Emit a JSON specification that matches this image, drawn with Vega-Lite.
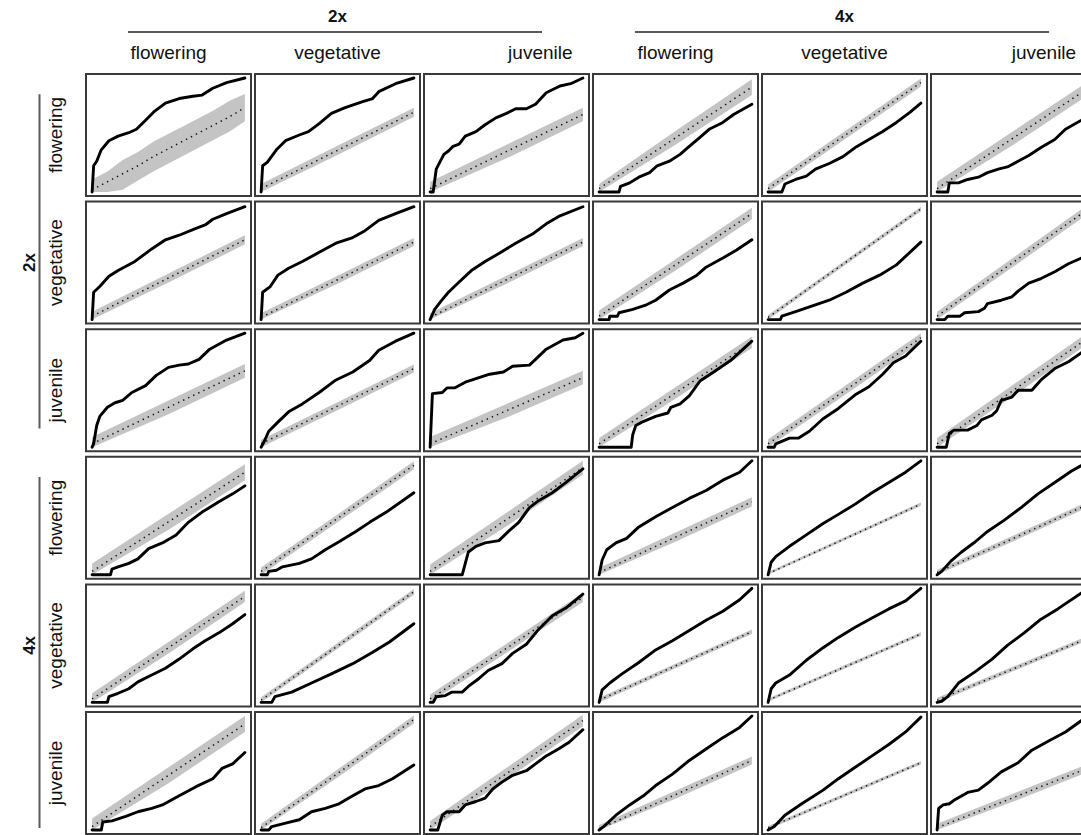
{
"$schema": "https://vega.github.io/schema/vega-lite/v6.json",
"padding": 0,
"background": "white",
"bounds": "flush",
"spacing": 0,
"config": {"view": {"stroke": "#3a3a3a", "strokeWidth": 2}, "font": "Liberation Sans", "concat": {"spacing": 0}},
"datasets": {"panels": [
{"r":"2F","c":"2F","s":"o","x":0,"y":0},{"r":"2F","c":"2F","s":"o","x":0.01,"y":0.23},{"r":"2F","c":"2F","s":"o","x":0.03,"y":0.27},{"r":"2F","c":"2F","s":"o","x":0.06,"y":0.37},{"r":"2F","c":"2F","s":"o","x":0.11,"y":0.45},{"r":"2F","c":"2F","s":"o","x":0.17,"y":0.49},{"r":"2F","c":"2F","s":"o","x":0.24,"y":0.52},{"r":"2F","c":"2F","s":"o","x":0.29,"y":0.55},{"r":"2F","c":"2F","s":"o","x":0.35,"y":0.63},{"r":"2F","c":"2F","s":"o","x":0.41,"y":0.71},{"r":"2F","c":"2F","s":"o","x":0.48,"y":0.78},{"r":"2F","c":"2F","s":"o","x":0.57,"y":0.82},{"r":"2F","c":"2F","s":"o","x":0.66,"y":0.84},{"r":"2F","c":"2F","s":"o","x":0.72,"y":0.85},{"r":"2F","c":"2F","s":"o","x":0.79,"y":0.91},{"r":"2F","c":"2F","s":"o","x":0.88,"y":0.96},{"r":"2F","c":"2F","s":"o","x":1,"y":1},
{"r":"2F","c":"2F","s":"e","x":0,"y":0.02,"lo":0,"hi":0.11},{"r":"2F","c":"2F","s":"e","x":0.1,"y":0.09,"lo":0,"hi":0.18},{"r":"2F","c":"2F","s":"e","x":0.2,"y":0.16,"lo":0.02,"hi":0.28},{"r":"2F","c":"2F","s":"e","x":0.3,"y":0.23,"lo":0.1,"hi":0.35},{"r":"2F","c":"2F","s":"e","x":0.4,"y":0.31,"lo":0.18,"hi":0.44},{"r":"2F","c":"2F","s":"e","x":0.5,"y":0.38,"lo":0.25,"hi":0.51},{"r":"2F","c":"2F","s":"e","x":0.6,"y":0.45,"lo":0.32,"hi":0.58},{"r":"2F","c":"2F","s":"e","x":0.7,"y":0.52,"lo":0.39,"hi":0.65},{"r":"2F","c":"2F","s":"e","x":0.8,"y":0.59,"lo":0.46,"hi":0.72},{"r":"2F","c":"2F","s":"e","x":0.9,"y":0.66,"lo":0.53,"hi":0.8},{"r":"2F","c":"2F","s":"e","x":1,"y":0.74,"lo":0.62,"hi":0.86},

{"r":"2F","c":"2V","s":"o","x":0,"y":0},{"r":"2F","c":"2V","s":"o","x":0.01,"y":0.23},{"r":"2F","c":"2V","s":"o","x":0.04,"y":0.26},{"r":"2F","c":"2V","s":"o","x":0.1,"y":0.37},{"r":"2F","c":"2V","s":"o","x":0.16,"y":0.45},{"r":"2F","c":"2V","s":"o","x":0.25,"y":0.5},{"r":"2F","c":"2V","s":"o","x":0.31,"y":0.53},{"r":"2F","c":"2V","s":"o","x":0.38,"y":0.6},{"r":"2F","c":"2V","s":"o","x":0.46,"y":0.69},{"r":"2F","c":"2V","s":"o","x":0.55,"y":0.74},{"r":"2F","c":"2V","s":"o","x":0.66,"y":0.79},{"r":"2F","c":"2V","s":"o","x":0.73,"y":0.82},{"r":"2F","c":"2V","s":"o","x":0.77,"y":0.88},{"r":"2F","c":"2V","s":"o","x":0.88,"y":0.95},{"r":"2F","c":"2V","s":"o","x":1,"y":1},
{"r":"2F","c":"2V","s":"e","x":0,"y":0.03,"lo":0,"hi":0.07},{"r":"2F","c":"2V","s":"e","x":0.5,"y":0.365,"lo":0.325,"hi":0.405},{"r":"2F","c":"2V","s":"e","x":1,"y":0.7,"lo":0.66,"hi":0.74},

{"r":"2F","c":"2J","s":"o","x":0,"y":0},{"r":"2F","c":"2J","s":"o","x":0.02,"y":0},{"r":"2F","c":"2J","s":"o","x":0.04,"y":0.2},{"r":"2F","c":"2J","s":"o","x":0.09,"y":0.33},{"r":"2F","c":"2J","s":"o","x":0.12,"y":0.36},{"r":"2F","c":"2J","s":"o","x":0.15,"y":0.4},{"r":"2F","c":"2J","s":"o","x":0.19,"y":0.42},{"r":"2F","c":"2J","s":"o","x":0.23,"y":0.49},{"r":"2F","c":"2J","s":"o","x":0.3,"y":0.53},{"r":"2F","c":"2J","s":"o","x":0.36,"y":0.59},{"r":"2F","c":"2J","s":"o","x":0.43,"y":0.65},{"r":"2F","c":"2J","s":"o","x":0.5,"y":0.69},{"r":"2F","c":"2J","s":"o","x":0.56,"y":0.73},{"r":"2F","c":"2J","s":"o","x":0.63,"y":0.73},{"r":"2F","c":"2J","s":"o","x":0.69,"y":0.77},{"r":"2F","c":"2J","s":"o","x":0.76,"y":0.87},{"r":"2F","c":"2J","s":"o","x":0.85,"y":0.93},{"r":"2F","c":"2J","s":"o","x":0.92,"y":0.95},{"r":"2F","c":"2J","s":"o","x":1,"y":1},
{"r":"2F","c":"2J","s":"e","x":0,"y":0.03,"lo":0,"hi":0.09},{"r":"2F","c":"2J","s":"e","x":0.5,"y":0.355,"lo":0.295,"hi":0.415},{"r":"2F","c":"2J","s":"e","x":1,"y":0.68,"lo":0.62,"hi":0.74},

{"r":"2F","c":"4F","s":"o","x":0,"y":0},{"r":"2F","c":"4F","s":"o","x":0.13,"y":0},{"r":"2F","c":"4F","s":"o","x":0.14,"y":0.05},{"r":"2F","c":"4F","s":"o","x":0.2,"y":0.08},{"r":"2F","c":"4F","s":"o","x":0.26,"y":0.13},{"r":"2F","c":"4F","s":"o","x":0.33,"y":0.17},{"r":"2F","c":"4F","s":"o","x":0.38,"y":0.23},{"r":"2F","c":"4F","s":"o","x":0.46,"y":0.27},{"r":"2F","c":"4F","s":"o","x":0.53,"y":0.33},{"r":"2F","c":"4F","s":"o","x":0.59,"y":0.4},{"r":"2F","c":"4F","s":"o","x":0.66,"y":0.48},{"r":"2F","c":"4F","s":"o","x":0.72,"y":0.55},{"r":"2F","c":"4F","s":"o","x":0.81,"y":0.61},{"r":"2F","c":"4F","s":"o","x":0.88,"y":0.68},{"r":"2F","c":"4F","s":"o","x":1,"y":0.77},
{"r":"2F","c":"4F","s":"e","x":0,"y":0.03,"lo":0,"hi":0.07},{"r":"2F","c":"4F","s":"e","x":0.5,"y":0.475,"lo":0.415,"hi":0.535},{"r":"2F","c":"4F","s":"e","x":1,"y":0.92,"lo":0.85,"hi":0.99},

{"r":"2F","c":"4V","s":"o","x":0,"y":0},{"r":"2F","c":"4V","s":"o","x":0.09,"y":0},{"r":"2F","c":"4V","s":"o","x":0.11,"y":0.07},{"r":"2F","c":"4V","s":"o","x":0.18,"y":0.11},{"r":"2F","c":"4V","s":"o","x":0.25,"y":0.14},{"r":"2F","c":"4V","s":"o","x":0.31,"y":0.2},{"r":"2F","c":"4V","s":"o","x":0.4,"y":0.25},{"r":"2F","c":"4V","s":"o","x":0.49,"y":0.31},{"r":"2F","c":"4V","s":"o","x":0.57,"y":0.39},{"r":"2F","c":"4V","s":"o","x":0.66,"y":0.46},{"r":"2F","c":"4V","s":"o","x":0.75,"y":0.53},{"r":"2F","c":"4V","s":"o","x":0.84,"y":0.61},{"r":"2F","c":"4V","s":"o","x":0.93,"y":0.7},{"r":"2F","c":"4V","s":"o","x":1,"y":0.78},
{"r":"2F","c":"4V","s":"e","x":0,"y":0.03,"lo":0,"hi":0.065},{"r":"2F","c":"4V","s":"e","x":0.5,"y":0.495,"lo":0.46,"hi":0.53},{"r":"2F","c":"4V","s":"e","x":1,"y":0.96,"lo":0.925,"hi":0.995},

{"r":"2F","c":"4J","s":"o","x":0,"y":0},{"r":"2F","c":"4J","s":"o","x":0.07,"y":0},{"r":"2F","c":"4J","s":"o","x":0.08,"y":0.08},{"r":"2F","c":"4J","s":"o","x":0.14,"y":0.08},{"r":"2F","c":"4J","s":"o","x":0.2,"y":0.11},{"r":"2F","c":"4J","s":"o","x":0.27,"y":0.13},{"r":"2F","c":"4J","s":"o","x":0.33,"y":0.17},{"r":"2F","c":"4J","s":"o","x":0.4,"y":0.2},{"r":"2F","c":"4J","s":"o","x":0.46,"y":0.22},{"r":"2F","c":"4J","s":"o","x":0.53,"y":0.27},{"r":"2F","c":"4J","s":"o","x":0.6,"y":0.32},{"r":"2F","c":"4J","s":"o","x":0.68,"y":0.39},{"r":"2F","c":"4J","s":"o","x":0.77,"y":0.46},{"r":"2F","c":"4J","s":"o","x":0.84,"y":0.55},{"r":"2F","c":"4J","s":"o","x":0.945,"y":0.63},{"r":"2F","c":"4J","s":"o","x":1,"y":0.69},
{"r":"2F","c":"4J","s":"e","x":0,"y":0.03,"lo":0,"hi":0.09},{"r":"2F","c":"4J","s":"e","x":0.5,"y":0.475,"lo":0.415,"hi":0.535},{"r":"2F","c":"4J","s":"e","x":1,"y":0.92,"lo":0.86,"hi":0.98},

{"r":"2V","c":"2F","s":"o","x":0,"y":0},{"r":"2V","c":"2F","s":"o","x":0.01,"y":0.24},{"r":"2V","c":"2F","s":"o","x":0.05,"y":0.29},{"r":"2V","c":"2F","s":"o","x":0.11,"y":0.38},{"r":"2V","c":"2F","s":"o","x":0.17,"y":0.43},{"r":"2V","c":"2F","s":"o","x":0.28,"y":0.51},{"r":"2V","c":"2F","s":"o","x":0.39,"y":0.62},{"r":"2V","c":"2F","s":"o","x":0.48,"y":0.7},{"r":"2V","c":"2F","s":"o","x":0.57,"y":0.74},{"r":"2V","c":"2F","s":"o","x":0.68,"y":0.8},{"r":"2V","c":"2F","s":"o","x":0.74,"y":0.83},{"r":"2V","c":"2F","s":"o","x":0.79,"y":0.88},{"r":"2V","c":"2F","s":"o","x":0.88,"y":0.93},{"r":"2V","c":"2F","s":"o","x":1,"y":0.99},
{"r":"2V","c":"2F","s":"e","x":0,"y":0.03,"lo":0,"hi":0.07},{"r":"2V","c":"2F","s":"e","x":0.5,"y":0.365,"lo":0.325,"hi":0.405},{"r":"2V","c":"2F","s":"e","x":1,"y":0.7,"lo":0.66,"hi":0.74},

{"r":"2V","c":"2V","s":"o","x":0,"y":0},{"r":"2V","c":"2V","s":"o","x":0.01,"y":0.24},{"r":"2V","c":"2V","s":"o","x":0.06,"y":0.29},{"r":"2V","c":"2V","s":"o","x":0.11,"y":0.39},{"r":"2V","c":"2V","s":"o","x":0.18,"y":0.45},{"r":"2V","c":"2V","s":"o","x":0.27,"y":0.51},{"r":"2V","c":"2V","s":"o","x":0.38,"y":0.59},{"r":"2V","c":"2V","s":"o","x":0.49,"y":0.67},{"r":"2V","c":"2V","s":"o","x":0.6,"y":0.72},{"r":"2V","c":"2V","s":"o","x":0.68,"y":0.78},{"r":"2V","c":"2V","s":"o","x":0.77,"y":0.87},{"r":"2V","c":"2V","s":"o","x":0.88,"y":0.93},{"r":"2V","c":"2V","s":"o","x":1,"y":0.99},
{"r":"2V","c":"2V","s":"e","x":0,"y":0.02,"lo":0,"hi":0.055},{"r":"2V","c":"2V","s":"e","x":0.5,"y":0.35,"lo":0.315,"hi":0.385},{"r":"2V","c":"2V","s":"e","x":1,"y":0.68,"lo":0.645,"hi":0.715},

{"r":"2V","c":"2J","s":"o","x":0,"y":0},{"r":"2V","c":"2J","s":"o","x":0.03,"y":0.09},{"r":"2V","c":"2J","s":"o","x":0.07,"y":0.16},{"r":"2V","c":"2J","s":"o","x":0.12,"y":0.24},{"r":"2V","c":"2J","s":"o","x":0.19,"y":0.33},{"r":"2V","c":"2J","s":"o","x":0.27,"y":0.43},{"r":"2V","c":"2J","s":"o","x":0.36,"y":0.51},{"r":"2V","c":"2J","s":"o","x":0.45,"y":0.58},{"r":"2V","c":"2J","s":"o","x":0.56,"y":0.67},{"r":"2V","c":"2J","s":"o","x":0.67,"y":0.75},{"r":"2V","c":"2J","s":"o","x":0.76,"y":0.84},{"r":"2V","c":"2J","s":"o","x":0.85,"y":0.91},{"r":"2V","c":"2J","s":"o","x":1,"y":0.99},
{"r":"2V","c":"2J","s":"e","x":0,"y":0.02,"lo":0,"hi":0.055},{"r":"2V","c":"2J","s":"e","x":0.5,"y":0.35,"lo":0.315,"hi":0.385},{"r":"2V","c":"2J","s":"e","x":1,"y":0.68,"lo":0.645,"hi":0.715},

{"r":"2V","c":"4F","s":"o","x":0,"y":0},{"r":"2V","c":"4F","s":"o","x":0.065,"y":0},{"r":"2V","c":"4F","s":"o","x":0.07,"y":0.03},{"r":"2V","c":"4F","s":"o","x":0.12,"y":0.03},{"r":"2V","c":"4F","s":"o","x":0.13,"y":0.06},{"r":"2V","c":"4F","s":"o","x":0.22,"y":0.09},{"r":"2V","c":"4F","s":"o","x":0.31,"y":0.13},{"r":"2V","c":"4F","s":"o","x":0.37,"y":0.17},{"r":"2V","c":"4F","s":"o","x":0.46,"y":0.26},{"r":"2V","c":"4F","s":"o","x":0.55,"y":0.32},{"r":"2V","c":"4F","s":"o","x":0.64,"y":0.39},{"r":"2V","c":"4F","s":"o","x":0.7,"y":0.46},{"r":"2V","c":"4F","s":"o","x":0.81,"y":0.54},{"r":"2V","c":"4F","s":"o","x":0.9,"y":0.61},{"r":"2V","c":"4F","s":"o","x":1,"y":0.7},
{"r":"2V","c":"4F","s":"e","x":0,"y":0.03,"lo":0,"hi":0.08},{"r":"2V","c":"4F","s":"e","x":0.5,"y":0.48,"lo":0.43,"hi":0.53},{"r":"2V","c":"4F","s":"e","x":1,"y":0.93,"lo":0.88,"hi":0.98},

{"r":"2V","c":"4V","s":"o","x":0,"y":0},{"r":"2V","c":"4V","s":"o","x":0.08,"y":0},{"r":"2V","c":"4V","s":"o","x":0.09,"y":0.03},{"r":"2V","c":"4V","s":"o","x":0.18,"y":0.07},{"r":"2V","c":"4V","s":"o","x":0.29,"y":0.12},{"r":"2V","c":"4V","s":"o","x":0.4,"y":0.17},{"r":"2V","c":"4V","s":"o","x":0.51,"y":0.24},{"r":"2V","c":"4V","s":"o","x":0.62,"y":0.32},{"r":"2V","c":"4V","s":"o","x":0.73,"y":0.39},{"r":"2V","c":"4V","s":"o","x":0.84,"y":0.48},{"r":"2V","c":"4V","s":"o","x":1,"y":0.68},
{"r":"2V","c":"4V","s":"e","x":0,"y":0.02,"lo":0,"hi":0.04},{"r":"2V","c":"4V","s":"e","x":0.5,"y":0.495,"lo":0.475,"hi":0.515},{"r":"2V","c":"4V","s":"e","x":1,"y":0.97,"lo":0.95,"hi":0.99},

{"r":"2V","c":"4J","s":"o","x":0,"y":0},{"r":"2V","c":"4J","s":"o","x":0.05,"y":0},{"r":"2V","c":"4J","s":"o","x":0.07,"y":0.03},{"r":"2V","c":"4J","s":"o","x":0.15,"y":0.03},{"r":"2V","c":"4J","s":"o","x":0.18,"y":0.06},{"r":"2V","c":"4J","s":"o","x":0.27,"y":0.07},{"r":"2V","c":"4J","s":"o","x":0.31,"y":0.1},{"r":"2V","c":"4J","s":"o","x":0.33,"y":0.14},{"r":"2V","c":"4J","s":"o","x":0.42,"y":0.17},{"r":"2V","c":"4J","s":"o","x":0.49,"y":0.2},{"r":"2V","c":"4J","s":"o","x":0.53,"y":0.25},{"r":"2V","c":"4J","s":"o","x":0.6,"y":0.32},{"r":"2V","c":"4J","s":"o","x":0.68,"y":0.36},{"r":"2V","c":"4J","s":"o","x":0.77,"y":0.42},{"r":"2V","c":"4J","s":"o","x":0.86,"y":0.49},{"r":"2V","c":"4J","s":"o","x":0.945,"y":0.54},{"r":"2V","c":"4J","s":"o","x":1,"y":0.59},
{"r":"2V","c":"4J","s":"e","x":0,"y":0.03,"lo":0,"hi":0.07},{"r":"2V","c":"4J","s":"e","x":0.5,"y":0.505,"lo":0.465,"hi":0.545},{"r":"2V","c":"4J","s":"e","x":1,"y":0.98,"lo":0.94,"hi":1.02},

{"r":"2J","c":"2F","s":"o","x":0,"y":0},{"r":"2J","c":"2F","s":"o","x":0.01,"y":0.03},{"r":"2J","c":"2F","s":"o","x":0.03,"y":0.19},{"r":"2J","c":"2F","s":"o","x":0.05,"y":0.27},{"r":"2J","c":"2F","s":"o","x":0.1,"y":0.35},{"r":"2J","c":"2F","s":"o","x":0.15,"y":0.39},{"r":"2J","c":"2F","s":"o","x":0.2,"y":0.41},{"r":"2J","c":"2F","s":"o","x":0.26,"y":0.48},{"r":"2J","c":"2F","s":"o","x":0.35,"y":0.54},{"r":"2J","c":"2F","s":"o","x":0.42,"y":0.63},{"r":"2J","c":"2F","s":"o","x":0.5,"y":0.7},{"r":"2J","c":"2F","s":"o","x":0.57,"y":0.72},{"r":"2J","c":"2F","s":"o","x":0.63,"y":0.73},{"r":"2J","c":"2F","s":"o","x":0.7,"y":0.77},{"r":"2J","c":"2F","s":"o","x":0.77,"y":0.86},{"r":"2J","c":"2F","s":"o","x":0.88,"y":0.94},{"r":"2J","c":"2F","s":"o","x":1,"y":1},
{"r":"2J","c":"2F","s":"e","x":0,"y":0.03,"lo":0,"hi":0.09},{"r":"2J","c":"2F","s":"e","x":0.5,"y":0.35,"lo":0.29,"hi":0.41},{"r":"2J","c":"2F","s":"e","x":1,"y":0.67,"lo":0.61,"hi":0.73},

{"r":"2J","c":"2V","s":"o","x":0,"y":0},{"r":"2J","c":"2V","s":"o","x":0.02,"y":0.05},{"r":"2J","c":"2V","s":"o","x":0.05,"y":0.14},{"r":"2J","c":"2V","s":"o","x":0.11,"y":0.22},{"r":"2J","c":"2V","s":"o","x":0.18,"y":0.31},{"r":"2J","c":"2V","s":"o","x":0.27,"y":0.38},{"r":"2J","c":"2V","s":"o","x":0.38,"y":0.48},{"r":"2J","c":"2V","s":"o","x":0.49,"y":0.59},{"r":"2J","c":"2V","s":"o","x":0.6,"y":0.66},{"r":"2J","c":"2V","s":"o","x":0.71,"y":0.76},{"r":"2J","c":"2V","s":"o","x":0.77,"y":0.85},{"r":"2J","c":"2V","s":"o","x":0.88,"y":0.93},{"r":"2J","c":"2V","s":"o","x":1,"y":1},
{"r":"2J","c":"2V","s":"e","x":0,"y":0.03,"lo":0,"hi":0.065},{"r":"2J","c":"2V","s":"e","x":0.5,"y":0.36,"lo":0.325,"hi":0.395},{"r":"2J","c":"2V","s":"e","x":1,"y":0.69,"lo":0.655,"hi":0.725},

{"r":"2J","c":"2J","s":"o","x":0,"y":0},{"r":"2J","c":"2J","s":"o","x":0.015,"y":0.47},{"r":"2J","c":"2J","s":"o","x":0.08,"y":0.48},{"r":"2J","c":"2J","s":"o","x":0.11,"y":0.52},{"r":"2J","c":"2J","s":"o","x":0.16,"y":0.52},{"r":"2J","c":"2J","s":"o","x":0.23,"y":0.57},{"r":"2J","c":"2J","s":"o","x":0.32,"y":0.61},{"r":"2J","c":"2J","s":"o","x":0.39,"y":0.64},{"r":"2J","c":"2J","s":"o","x":0.48,"y":0.66},{"r":"2J","c":"2J","s":"o","x":0.54,"y":0.71},{"r":"2J","c":"2J","s":"o","x":0.65,"y":0.72},{"r":"2J","c":"2J","s":"o","x":0.69,"y":0.77},{"r":"2J","c":"2J","s":"o","x":0.76,"y":0.86},{"r":"2J","c":"2J","s":"o","x":0.87,"y":0.94},{"r":"2J","c":"2J","s":"o","x":0.95,"y":0.96},{"r":"2J","c":"2J","s":"o","x":1,"y":1},
{"r":"2J","c":"2J","s":"e","x":0,"y":0.03,"lo":0,"hi":0.09},{"r":"2J","c":"2J","s":"e","x":0.5,"y":0.32,"lo":0.26,"hi":0.38},{"r":"2J","c":"2J","s":"e","x":1,"y":0.61,"lo":0.55,"hi":0.67},

{"r":"2J","c":"4F","s":"o","x":0,"y":0},{"r":"2J","c":"4F","s":"o","x":0.21,"y":0},{"r":"2J","c":"4F","s":"o","x":0.22,"y":0.11},{"r":"2J","c":"4F","s":"o","x":0.24,"y":0.19},{"r":"2J","c":"4F","s":"o","x":0.28,"y":0.22},{"r":"2J","c":"4F","s":"o","x":0.37,"y":0.27},{"r":"2J","c":"4F","s":"o","x":0.45,"y":0.3},{"r":"2J","c":"4F","s":"o","x":0.47,"y":0.35},{"r":"2J","c":"4F","s":"o","x":0.53,"y":0.38},{"r":"2J","c":"4F","s":"o","x":0.59,"y":0.45},{"r":"2J","c":"4F","s":"o","x":0.66,"y":0.58},{"r":"2J","c":"4F","s":"o","x":0.75,"y":0.66},{"r":"2J","c":"4F","s":"o","x":0.86,"y":0.76},{"r":"2J","c":"4F","s":"o","x":1,"y":0.93},
{"r":"2J","c":"4F","s":"e","x":0,"y":0.03,"lo":0,"hi":0.08},{"r":"2J","c":"4F","s":"e","x":0.5,"y":0.475,"lo":0.425,"hi":0.525},{"r":"2J","c":"4F","s":"e","x":1,"y":0.92,"lo":0.87,"hi":0.97},

{"r":"2J","c":"4V","s":"o","x":0,"y":0},{"r":"2J","c":"4V","s":"o","x":0.04,"y":0},{"r":"2J","c":"4V","s":"o","x":0.05,"y":0.03},{"r":"2J","c":"4V","s":"o","x":0.14,"y":0.08},{"r":"2J","c":"4V","s":"o","x":0.2,"y":0.08},{"r":"2J","c":"4V","s":"o","x":0.27,"y":0.14},{"r":"2J","c":"4V","s":"o","x":0.36,"y":0.25},{"r":"2J","c":"4V","s":"o","x":0.46,"y":0.34},{"r":"2J","c":"4V","s":"o","x":0.57,"y":0.46},{"r":"2J","c":"4V","s":"o","x":0.66,"y":0.53},{"r":"2J","c":"4V","s":"o","x":0.75,"y":0.64},{"r":"2J","c":"4V","s":"o","x":0.82,"y":0.74},{"r":"2J","c":"4V","s":"o","x":0.9,"y":0.8},{"r":"2J","c":"4V","s":"o","x":1,"y":0.93},
{"r":"2J","c":"4V","s":"e","x":0,"y":0.03,"lo":0,"hi":0.07},{"r":"2J","c":"4V","s":"e","x":0.5,"y":0.495,"lo":0.455,"hi":0.535},{"r":"2J","c":"4V","s":"e","x":1,"y":0.96,"lo":0.92,"hi":1},

{"r":"2J","c":"4J","s":"o","x":0,"y":0},{"r":"2J","c":"4J","s":"o","x":0.06,"y":0},{"r":"2J","c":"4J","s":"o","x":0.08,"y":0.12},{"r":"2J","c":"4J","s":"o","x":0.11,"y":0.15},{"r":"2J","c":"4J","s":"o","x":0.2,"y":0.15},{"r":"2J","c":"4J","s":"o","x":0.26,"y":0.19},{"r":"2J","c":"4J","s":"o","x":0.29,"y":0.24},{"r":"2J","c":"4J","s":"o","x":0.36,"y":0.28},{"r":"2J","c":"4J","s":"o","x":0.39,"y":0.32},{"r":"2J","c":"4J","s":"o","x":0.42,"y":0.41},{"r":"2J","c":"4J","s":"o","x":0.49,"y":0.44},{"r":"2J","c":"4J","s":"o","x":0.53,"y":0.5},{"r":"2J","c":"4J","s":"o","x":0.62,"y":0.5},{"r":"2J","c":"4J","s":"o","x":0.68,"y":0.59},{"r":"2J","c":"4J","s":"o","x":0.77,"y":0.69},{"r":"2J","c":"4J","s":"o","x":0.86,"y":0.75},{"r":"2J","c":"4J","s":"o","x":0.945,"y":0.83},{"r":"2J","c":"4J","s":"o","x":1,"y":0.9},
{"r":"2J","c":"4J","s":"e","x":0,"y":0.03,"lo":0,"hi":0.08},{"r":"2J","c":"4J","s":"e","x":0.5,"y":0.5,"lo":0.45,"hi":0.55},{"r":"2J","c":"4J","s":"e","x":1,"y":0.97,"lo":0.92,"hi":1.02},

{"r":"4F","c":"2F","s":"o","x":0,"y":0},{"r":"4F","c":"2F","s":"o","x":0.12,"y":0},{"r":"4F","c":"2F","s":"o","x":0.13,"y":0.05},{"r":"4F","c":"2F","s":"o","x":0.17,"y":0.07},{"r":"4F","c":"2F","s":"o","x":0.24,"y":0.1},{"r":"4F","c":"2F","s":"o","x":0.3,"y":0.14},{"r":"4F","c":"2F","s":"o","x":0.37,"y":0.23},{"r":"4F","c":"2F","s":"o","x":0.46,"y":0.28},{"r":"4F","c":"2F","s":"o","x":0.55,"y":0.35},{"r":"4F","c":"2F","s":"o","x":0.63,"y":0.46},{"r":"4F","c":"2F","s":"o","x":0.72,"y":0.55},{"r":"4F","c":"2F","s":"o","x":0.83,"y":0.64},{"r":"4F","c":"2F","s":"o","x":0.92,"y":0.71},{"r":"4F","c":"2F","s":"o","x":1,"y":0.78},
{"r":"4F","c":"2F","s":"e","x":0,"y":0.03,"lo":0,"hi":0.1},{"r":"4F","c":"2F","s":"e","x":0.5,"y":0.465,"lo":0.395,"hi":0.535},{"r":"4F","c":"2F","s":"e","x":1,"y":0.9,"lo":0.83,"hi":0.97},

{"r":"4F","c":"2V","s":"o","x":0,"y":0},{"r":"4F","c":"2V","s":"o","x":0.04,"y":0},{"r":"4F","c":"2V","s":"o","x":0.05,"y":0.03},{"r":"4F","c":"2V","s":"o","x":0.1,"y":0.04},{"r":"4F","c":"2V","s":"o","x":0.14,"y":0.07},{"r":"4F","c":"2V","s":"o","x":0.25,"y":0.1},{"r":"4F","c":"2V","s":"o","x":0.33,"y":0.14},{"r":"4F","c":"2V","s":"o","x":0.42,"y":0.22},{"r":"4F","c":"2V","s":"o","x":0.51,"y":0.29},{"r":"4F","c":"2V","s":"o","x":0.62,"y":0.38},{"r":"4F","c":"2V","s":"o","x":0.71,"y":0.46},{"r":"4F","c":"2V","s":"o","x":0.82,"y":0.55},{"r":"4F","c":"2V","s":"o","x":1,"y":0.72},
{"r":"4F","c":"2V","s":"e","x":0,"y":0.03,"lo":0,"hi":0.065},{"r":"4F","c":"2V","s":"e","x":0.5,"y":0.495,"lo":0.46,"hi":0.53},{"r":"4F","c":"2V","s":"e","x":1,"y":0.96,"lo":0.925,"hi":0.995},

{"r":"4F","c":"2J","s":"o","x":0,"y":0},{"r":"4F","c":"2J","s":"o","x":0.21,"y":0},{"r":"4F","c":"2J","s":"o","x":0.25,"y":0.2},{"r":"4F","c":"2J","s":"o","x":0.3,"y":0.25},{"r":"4F","c":"2J","s":"o","x":0.36,"y":0.28},{"r":"4F","c":"2J","s":"o","x":0.45,"y":0.3},{"r":"4F","c":"2J","s":"o","x":0.52,"y":0.39},{"r":"4F","c":"2J","s":"o","x":0.58,"y":0.46},{"r":"4F","c":"2J","s":"o","x":0.65,"y":0.59},{"r":"4F","c":"2J","s":"o","x":0.71,"y":0.65},{"r":"4F","c":"2J","s":"o","x":0.8,"y":0.72},{"r":"4F","c":"2J","s":"o","x":0.89,"y":0.81},{"r":"4F","c":"2J","s":"o","x":1,"y":0.93},
{"r":"4F","c":"2J","s":"e","x":0,"y":0.03,"lo":0,"hi":0.09},{"r":"4F","c":"2J","s":"e","x":0.5,"y":0.485,"lo":0.425,"hi":0.545},{"r":"4F","c":"2J","s":"e","x":1,"y":0.94,"lo":0.88,"hi":1},

{"r":"4F","c":"4F","s":"o","x":0,"y":0},{"r":"4F","c":"4F","s":"o","x":0.02,"y":0.13},{"r":"4F","c":"4F","s":"o","x":0.05,"y":0.22},{"r":"4F","c":"4F","s":"o","x":0.11,"y":0.28},{"r":"4F","c":"4F","s":"o","x":0.18,"y":0.32},{"r":"4F","c":"4F","s":"o","x":0.26,"y":0.42},{"r":"4F","c":"4F","s":"o","x":0.37,"y":0.51},{"r":"4F","c":"4F","s":"o","x":0.48,"y":0.59},{"r":"4F","c":"4F","s":"o","x":0.59,"y":0.67},{"r":"4F","c":"4F","s":"o","x":0.7,"y":0.74},{"r":"4F","c":"4F","s":"o","x":0.81,"y":0.83},{"r":"4F","c":"4F","s":"o","x":0.92,"y":0.9},{"r":"4F","c":"4F","s":"o","x":1,"y":1},
{"r":"4F","c":"4F","s":"e","x":0,"y":0.02,"lo":0,"hi":0.06},{"r":"4F","c":"4F","s":"e","x":0.5,"y":0.33,"lo":0.29,"hi":0.37},{"r":"4F","c":"4F","s":"e","x":1,"y":0.64,"lo":0.6,"hi":0.68},

{"r":"4F","c":"4V","s":"o","x":0,"y":0},{"r":"4F","c":"4V","s":"o","x":0.02,"y":0.11},{"r":"4F","c":"4V","s":"o","x":0.05,"y":0.16},{"r":"4F","c":"4V","s":"o","x":0.14,"y":0.25},{"r":"4F","c":"4V","s":"o","x":0.25,"y":0.35},{"r":"4F","c":"4V","s":"o","x":0.36,"y":0.45},{"r":"4F","c":"4V","s":"o","x":0.46,"y":0.53},{"r":"4F","c":"4V","s":"o","x":0.57,"y":0.62},{"r":"4F","c":"4V","s":"o","x":0.68,"y":0.72},{"r":"4F","c":"4V","s":"o","x":0.79,"y":0.81},{"r":"4F","c":"4V","s":"o","x":0.9,"y":0.9},{"r":"4F","c":"4V","s":"o","x":1,"y":1},
{"r":"4F","c":"4V","s":"e","x":0,"y":0.01,"lo":0,"hi":0.025},{"r":"4F","c":"4V","s":"e","x":0.5,"y":0.315,"lo":0.3,"hi":0.33},{"r":"4F","c":"4V","s":"e","x":1,"y":0.62,"lo":0.605,"hi":0.635},

{"r":"4F","c":"4J","s":"o","x":0,"y":0},{"r":"4F","c":"4J","s":"o","x":0.03,"y":0.03},{"r":"4F","c":"4J","s":"o","x":0.09,"y":0.12},{"r":"4F","c":"4J","s":"o","x":0.16,"y":0.2},{"r":"4F","c":"4J","s":"o","x":0.25,"y":0.29},{"r":"4F","c":"4J","s":"o","x":0.33,"y":0.38},{"r":"4F","c":"4J","s":"o","x":0.44,"y":0.48},{"r":"4F","c":"4J","s":"o","x":0.55,"y":0.59},{"r":"4F","c":"4J","s":"o","x":0.66,"y":0.71},{"r":"4F","c":"4J","s":"o","x":0.77,"y":0.81},{"r":"4F","c":"4J","s":"o","x":0.88,"y":0.91},{"r":"4F","c":"4J","s":"o","x":1,"y":1},
{"r":"4F","c":"4J","s":"e","x":0,"y":0.02,"lo":0,"hi":0.045},{"r":"4F","c":"4J","s":"e","x":0.5,"y":0.32,"lo":0.295,"hi":0.345},{"r":"4F","c":"4J","s":"e","x":1,"y":0.625,"lo":0.6,"hi":0.65},

{"r":"4V","c":"2F","s":"o","x":0,"y":0},{"r":"4V","c":"2F","s":"o","x":0.1,"y":0},{"r":"4V","c":"2F","s":"o","x":0.11,"y":0.05},{"r":"4V","c":"2F","s":"o","x":0.17,"y":0.08},{"r":"4V","c":"2F","s":"o","x":0.24,"y":0.12},{"r":"4V","c":"2F","s":"o","x":0.3,"y":0.18},{"r":"4V","c":"2F","s":"o","x":0.39,"y":0.24},{"r":"4V","c":"2F","s":"o","x":0.48,"y":0.3},{"r":"4V","c":"2F","s":"o","x":0.57,"y":0.38},{"r":"4V","c":"2F","s":"o","x":0.66,"y":0.47},{"r":"4V","c":"2F","s":"o","x":0.74,"y":0.54},{"r":"4V","c":"2F","s":"o","x":0.83,"y":0.61},{"r":"4V","c":"2F","s":"o","x":0.92,"y":0.69},{"r":"4V","c":"2F","s":"o","x":1,"y":0.77},
{"r":"4V","c":"2F","s":"e","x":0,"y":0.03,"lo":0,"hi":0.08},{"r":"4V","c":"2F","s":"e","x":0.5,"y":0.48,"lo":0.43,"hi":0.53},{"r":"4V","c":"2F","s":"e","x":1,"y":0.93,"lo":0.88,"hi":0.98},

{"r":"4V","c":"2V","s":"o","x":0,"y":0},{"r":"4V","c":"2V","s":"o","x":0.07,"y":0},{"r":"4V","c":"2V","s":"o","x":0.09,"y":0.05},{"r":"4V","c":"2V","s":"o","x":0.2,"y":0.09},{"r":"4V","c":"2V","s":"o","x":0.33,"y":0.17},{"r":"4V","c":"2V","s":"o","x":0.46,"y":0.25},{"r":"4V","c":"2V","s":"o","x":0.6,"y":0.34},{"r":"4V","c":"2V","s":"o","x":0.73,"y":0.44},{"r":"4V","c":"2V","s":"o","x":0.84,"y":0.53},{"r":"4V","c":"2V","s":"o","x":1,"y":0.69},
{"r":"4V","c":"2V","s":"e","x":0,"y":0.02,"lo":0,"hi":0.045},{"r":"4V","c":"2V","s":"e","x":0.5,"y":0.495,"lo":0.47,"hi":0.52},{"r":"4V","c":"2V","s":"e","x":1,"y":0.97,"lo":0.945,"hi":0.995},

{"r":"4V","c":"2J","s":"o","x":0,"y":0},{"r":"4V","c":"2J","s":"o","x":0.02,"y":0},{"r":"4V","c":"2J","s":"o","x":0.04,"y":0.05},{"r":"4V","c":"2J","s":"o","x":0.1,"y":0.06},{"r":"4V","c":"2J","s":"o","x":0.14,"y":0.09},{"r":"4V","c":"2J","s":"o","x":0.21,"y":0.09},{"r":"4V","c":"2J","s":"o","x":0.25,"y":0.14},{"r":"4V","c":"2J","s":"o","x":0.32,"y":0.21},{"r":"4V","c":"2J","s":"o","x":0.38,"y":0.28},{"r":"4V","c":"2J","s":"o","x":0.47,"y":0.34},{"r":"4V","c":"2J","s":"o","x":0.54,"y":0.43},{"r":"4V","c":"2J","s":"o","x":0.63,"y":0.51},{"r":"4V","c":"2J","s":"o","x":0.71,"y":0.64},{"r":"4V","c":"2J","s":"o","x":0.8,"y":0.76},{"r":"4V","c":"2J","s":"o","x":0.89,"y":0.83},{"r":"4V","c":"2J","s":"o","x":1,"y":0.95},
{"r":"4V","c":"2J","s":"e","x":0,"y":0.03,"lo":0,"hi":0.07},{"r":"4V","c":"2J","s":"e","x":0.5,"y":0.475,"lo":0.435,"hi":0.515},{"r":"4V","c":"2J","s":"e","x":1,"y":0.92,"lo":0.88,"hi":0.96},

{"r":"4V","c":"4F","s":"o","x":0,"y":0},{"r":"4V","c":"4F","s":"o","x":0.02,"y":0.11},{"r":"4V","c":"4F","s":"o","x":0.07,"y":0.17},{"r":"4V","c":"4F","s":"o","x":0.15,"y":0.25},{"r":"4V","c":"4F","s":"o","x":0.26,"y":0.35},{"r":"4V","c":"4F","s":"o","x":0.37,"y":0.46},{"r":"4V","c":"4F","s":"o","x":0.48,"y":0.54},{"r":"4V","c":"4F","s":"o","x":0.59,"y":0.63},{"r":"4V","c":"4F","s":"o","x":0.7,"y":0.72},{"r":"4V","c":"4F","s":"o","x":0.81,"y":0.8},{"r":"4V","c":"4F","s":"o","x":0.92,"y":0.9},{"r":"4V","c":"4F","s":"o","x":1,"y":1},
{"r":"4V","c":"4F","s":"e","x":0,"y":0.02,"lo":0,"hi":0.04},{"r":"4V","c":"4F","s":"e","x":0.5,"y":0.32,"lo":0.3,"hi":0.34},{"r":"4V","c":"4F","s":"e","x":1,"y":0.62,"lo":0.6,"hi":0.64},

{"r":"4V","c":"4V","s":"o","x":0,"y":0},{"r":"4V","c":"4V","s":"o","x":0.02,"y":0.12},{"r":"4V","c":"4V","s":"o","x":0.05,"y":0.17},{"r":"4V","c":"4V","s":"o","x":0.14,"y":0.24},{"r":"4V","c":"4V","s":"o","x":0.25,"y":0.37},{"r":"4V","c":"4V","s":"o","x":0.36,"y":0.48},{"r":"4V","c":"4V","s":"o","x":0.46,"y":0.57},{"r":"4V","c":"4V","s":"o","x":0.57,"y":0.66},{"r":"4V","c":"4V","s":"o","x":0.68,"y":0.74},{"r":"4V","c":"4V","s":"o","x":0.79,"y":0.82},{"r":"4V","c":"4V","s":"o","x":0.9,"y":0.89},{"r":"4V","c":"4V","s":"o","x":1,"y":1},
{"r":"4V","c":"4V","s":"e","x":0,"y":0.02,"lo":0.005,"hi":0.035},{"r":"4V","c":"4V","s":"e","x":0.5,"y":0.31,"lo":0.295,"hi":0.325},{"r":"4V","c":"4V","s":"e","x":1,"y":0.6,"lo":0.585,"hi":0.615},

{"r":"4V","c":"4J","s":"o","x":0,"y":0},{"r":"4V","c":"4J","s":"o","x":0.03,"y":0.01},{"r":"4V","c":"4J","s":"o","x":0.07,"y":0.05},{"r":"4V","c":"4J","s":"o","x":0.14,"y":0.17},{"r":"4V","c":"4J","s":"o","x":0.25,"y":0.27},{"r":"4V","c":"4J","s":"o","x":0.36,"y":0.38},{"r":"4V","c":"4J","s":"o","x":0.46,"y":0.5},{"r":"4V","c":"4J","s":"o","x":0.57,"y":0.61},{"r":"4V","c":"4J","s":"o","x":0.68,"y":0.73},{"r":"4V","c":"4J","s":"o","x":0.79,"y":0.82},{"r":"4V","c":"4J","s":"o","x":0.945,"y":0.96},{"r":"4V","c":"4J","s":"o","x":1,"y":1},
{"r":"4V","c":"4J","s":"e","x":0,"y":0.02,"lo":0,"hi":0.04},{"r":"4V","c":"4J","s":"e","x":0.5,"y":0.295,"lo":0.275,"hi":0.315},{"r":"4V","c":"4J","s":"e","x":1,"y":0.57,"lo":0.55,"hi":0.59},

{"r":"4J","c":"2F","s":"o","x":0,"y":0},{"r":"4J","c":"2F","s":"o","x":0.06,"y":0},{"r":"4J","c":"2F","s":"o","x":0.07,"y":0.07},{"r":"4J","c":"2F","s":"o","x":0.13,"y":0.08},{"r":"4J","c":"2F","s":"o","x":0.22,"y":0.12},{"r":"4J","c":"2F","s":"o","x":0.3,"y":0.16},{"r":"4J","c":"2F","s":"o","x":0.39,"y":0.19},{"r":"4J","c":"2F","s":"o","x":0.46,"y":0.22},{"r":"4J","c":"2F","s":"o","x":0.57,"y":0.3},{"r":"4J","c":"2F","s":"o","x":0.68,"y":0.38},{"r":"4J","c":"2F","s":"o","x":0.79,"y":0.45},{"r":"4J","c":"2F","s":"o","x":0.85,"y":0.54},{"r":"4J","c":"2F","s":"o","x":0.92,"y":0.58},{"r":"4J","c":"2F","s":"o","x":1,"y":0.68},
{"r":"4J","c":"2F","s":"e","x":0,"y":0.03,"lo":0,"hi":0.1},{"r":"4J","c":"2F","s":"e","x":0.5,"y":0.48,"lo":0.41,"hi":0.55},{"r":"4J","c":"2F","s":"e","x":1,"y":0.93,"lo":0.86,"hi":1},

{"r":"4J","c":"2V","s":"o","x":0,"y":0},{"r":"4J","c":"2V","s":"o","x":0.05,"y":0},{"r":"4J","c":"2V","s":"o","x":0.07,"y":0.03},{"r":"4J","c":"2V","s":"o","x":0.16,"y":0.06},{"r":"4J","c":"2V","s":"o","x":0.25,"y":0.09},{"r":"4J","c":"2V","s":"o","x":0.33,"y":0.16},{"r":"4J","c":"2V","s":"o","x":0.42,"y":0.19},{"r":"4J","c":"2V","s":"o","x":0.51,"y":0.23},{"r":"4J","c":"2V","s":"o","x":0.6,"y":0.3},{"r":"4J","c":"2V","s":"o","x":0.68,"y":0.36},{"r":"4J","c":"2V","s":"o","x":0.77,"y":0.39},{"r":"4J","c":"2V","s":"o","x":0.86,"y":0.45},{"r":"4J","c":"2V","s":"o","x":1,"y":0.57},
{"r":"4J","c":"2V","s":"e","x":0,"y":0.02,"lo":0,"hi":0.055},{"r":"4J","c":"2V","s":"e","x":0.5,"y":0.495,"lo":0.46,"hi":0.53},{"r":"4J","c":"2V","s":"e","x":1,"y":0.97,"lo":0.935,"hi":1.005},

{"r":"4J","c":"2J","s":"o","x":0,"y":0},{"r":"4J","c":"2J","s":"o","x":0.05,"y":0},{"r":"4J","c":"2J","s":"o","x":0.08,"y":0.13},{"r":"4J","c":"2J","s":"o","x":0.11,"y":0.16},{"r":"4J","c":"2J","s":"o","x":0.19,"y":0.16},{"r":"4J","c":"2J","s":"o","x":0.23,"y":0.22},{"r":"4J","c":"2J","s":"o","x":0.3,"y":0.25},{"r":"4J","c":"2J","s":"o","x":0.36,"y":0.28},{"r":"4J","c":"2J","s":"o","x":0.41,"y":0.36},{"r":"4J","c":"2J","s":"o","x":0.47,"y":0.42},{"r":"4J","c":"2J","s":"o","x":0.54,"y":0.48},{"r":"4J","c":"2J","s":"o","x":0.63,"y":0.52},{"r":"4J","c":"2J","s":"o","x":0.69,"y":0.58},{"r":"4J","c":"2J","s":"o","x":0.76,"y":0.65},{"r":"4J","c":"2J","s":"o","x":0.84,"y":0.71},{"r":"4J","c":"2J","s":"o","x":0.91,"y":0.77},{"r":"4J","c":"2J","s":"o","x":1,"y":0.88},
{"r":"4J","c":"2J","s":"e","x":0,"y":0.03,"lo":0,"hi":0.08},{"r":"4J","c":"2J","s":"e","x":0.5,"y":0.495,"lo":0.445,"hi":0.545},{"r":"4J","c":"2J","s":"e","x":1,"y":0.96,"lo":0.91,"hi":1.01},

{"r":"4J","c":"4F","s":"o","x":0,"y":0},{"r":"4J","c":"4F","s":"o","x":0.03,"y":0.03},{"r":"4J","c":"4F","s":"o","x":0.11,"y":0.13},{"r":"4J","c":"4F","s":"o","x":0.2,"y":0.22},{"r":"4J","c":"4F","s":"o","x":0.29,"y":0.3},{"r":"4J","c":"4F","s":"o","x":0.37,"y":0.39},{"r":"4J","c":"4F","s":"o","x":0.48,"y":0.49},{"r":"4J","c":"4F","s":"o","x":0.59,"y":0.61},{"r":"4J","c":"4F","s":"o","x":0.7,"y":0.71},{"r":"4J","c":"4F","s":"o","x":0.81,"y":0.81},{"r":"4J","c":"4F","s":"o","x":0.92,"y":0.9},{"r":"4J","c":"4F","s":"o","x":1,"y":1},
{"r":"4J","c":"4F","s":"e","x":0,"y":0.01,"lo":0,"hi":0.045},{"r":"4J","c":"4F","s":"e","x":0.5,"y":0.31,"lo":0.275,"hi":0.345},{"r":"4J","c":"4F","s":"e","x":1,"y":0.61,"lo":0.575,"hi":0.645},

{"r":"4J","c":"4V","s":"o","x":0,"y":0},{"r":"4J","c":"4V","s":"o","x":0.04,"y":0.03},{"r":"4J","c":"4V","s":"o","x":0.11,"y":0.13},{"r":"4J","c":"4V","s":"o","x":0.22,"y":0.23},{"r":"4J","c":"4V","s":"o","x":0.36,"y":0.35},{"r":"4J","c":"4V","s":"o","x":0.46,"y":0.45},{"r":"4J","c":"4V","s":"o","x":0.57,"y":0.55},{"r":"4J","c":"4V","s":"o","x":0.68,"y":0.65},{"r":"4J","c":"4V","s":"o","x":0.79,"y":0.75},{"r":"4J","c":"4V","s":"o","x":0.9,"y":0.86},{"r":"4J","c":"4V","s":"o","x":1,"y":0.99},
{"r":"4J","c":"4V","s":"e","x":0,"y":0.02,"lo":0.005,"hi":0.035},{"r":"4J","c":"4V","s":"e","x":0.5,"y":0.305,"lo":0.29,"hi":0.32},{"r":"4J","c":"4V","s":"e","x":1,"y":0.59,"lo":0.575,"hi":0.605},

{"r":"4J","c":"4J","s":"o","x":0,"y":0},{"r":"4J","c":"4J","s":"o","x":0.01,"y":0.19},{"r":"4J","c":"4J","s":"o","x":0.04,"y":0.22},{"r":"4J","c":"4J","s":"o","x":0.08,"y":0.23},{"r":"4J","c":"4J","s":"o","x":0.11,"y":0.26},{"r":"4J","c":"4J","s":"o","x":0.2,"y":0.33},{"r":"4J","c":"4J","s":"o","x":0.27,"y":0.35},{"r":"4J","c":"4J","s":"o","x":0.33,"y":0.41},{"r":"4J","c":"4J","s":"o","x":0.42,"y":0.51},{"r":"4J","c":"4J","s":"o","x":0.53,"y":0.59},{"r":"4J","c":"4J","s":"o","x":0.62,"y":0.7},{"r":"4J","c":"4J","s":"o","x":0.73,"y":0.78},{"r":"4J","c":"4J","s":"o","x":0.84,"y":0.86},{"r":"4J","c":"4J","s":"o","x":0.945,"y":0.96},{"r":"4J","c":"4J","s":"o","x":1,"y":1},
{"r":"4J","c":"4J","s":"e","x":0,"y":0.02,"lo":0,"hi":0.055},{"r":"4J","c":"4J","s":"e","x":0.5,"y":0.285,"lo":0.25,"hi":0.32},{"r":"4J","c":"4J","s":"e","x":1,"y":0.55,"lo":0.515,"hi":0.585}
]},
"vconcat": [
{
 "width": 1096, "height": 74,
 "view": {"stroke": null},
 "data": {"values": [
  {"tier":"group","label":"2x","mid":1.5,"from":0.26,"to":2.71},
  {"tier":"group","label":"4x","mid":4.5,"from":3.26,"to":5.71},
  {"tier":"stage","label":"flowering","mid":0.5},
  {"tier":"stage","label":"vegetative","mid":1.5},
  {"tier":"stage","label":"juvenile","mid":2.7},
  {"tier":"stage","label":"flowering","mid":3.5},
  {"tier":"stage","label":"vegetative","mid":4.5},
  {"tier":"stage","label":"juvenile","mid":5.68}
 ]},
 "encoding": {
  "y": {"field":"tier","type":"nominal","scale":{"type":"point","domain":["group","stage"],"range":[22,59],"padding":0},"axis":null}
 },
 "layer": [
  {"transform":[{"filter":"datum.tier==='group'"}],
   "mark":{"type":"rule","stroke":"#5a5a5a","strokeWidth":2,"yOffset":10},
   "encoding":{"x":{"field":"from","type":"quantitative","scale":{"domain":[-0.497,5.988],"nice":false,"zero":false},"axis":null},"x2":{"field":"to"}}},
  {"transform":[{"filter":"datum.tier==='group'"}],
   "mark":{"type":"text","fontSize":17,"fontWeight":"bold","baseline":"alphabetic","align":"center","color":"#111"},
   "encoding":{"x":{"field":"mid","type":"quantitative","scale":{"domain":[-0.497,5.988],"nice":false,"zero":false},"axis":null},"text":{"field":"label"}}},
  {"transform":[{"filter":"datum.tier==='stage'"}],
   "mark":{"type":"text","fontSize":19,"baseline":"alphabetic","align":"center","color":"#111"},
   "encoding":{"x":{"field":"mid","type":"quantitative","scale":{"domain":[-0.497,5.988],"nice":false,"zero":false},"axis":null},"text":{"field":"label"}}}
 ]
},
{
 "hconcat": [
  {
   "width": 86, "height": 760,
   "view": {"stroke": null},
   "data": {"values": [
    {"tier":"group","label":"2x","mid":1.5,"from":0.18,"to":2.8},
    {"tier":"group","label":"4x","mid":4.5,"from":3.18,"to":5.93},
    {"tier":"stage","label":"flowering","mid":0.5},
    {"tier":"stage","label":"vegetative","mid":1.5},
    {"tier":"stage","label":"juvenile","mid":2.5},
    {"tier":"stage","label":"flowering","mid":3.5},
    {"tier":"stage","label":"vegetative","mid":4.5},
    {"tier":"stage","label":"juvenile","mid":5.5}
   ]},
   "encoding": {
    "x": {"field":"tier","type":"nominal","scale":{"type":"point","domain":["group","stage"],"range":[35,61.5],"padding":0},"axis":null}
   },
   "layer": [
    {"transform":[{"filter":"datum.tier==='group'"}],
     "mark":{"type":"rule","stroke":"#5a5a5a","strokeWidth":2,"xOffset":4.5},
     "encoding":{"y":{"field":"from","type":"quantitative","scale":{"domain":[0.022,5.978],"reverse":true,"nice":false,"zero":false},"axis":null},"y2":{"field":"to"}}},
    {"transform":[{"filter":"datum.tier==='group'"}],
     "mark":{"type":"text","fontSize":17,"fontWeight":"bold","baseline":"alphabetic","align":"center","angle":270,"color":"#111"},
     "encoding":{"y":{"field":"mid","type":"quantitative","scale":{"domain":[0.022,5.978],"reverse":true,"nice":false,"zero":false},"axis":null},"text":{"field":"label"}}},
    {"transform":[{"filter":"datum.tier==='stage'"}],
     "mark":{"type":"text","fontSize":19,"baseline":"alphabetic","align":"center","angle":270,"color":"#111"},
     "encoding":{"y":{"field":"mid","type":"quantitative","scale":{"domain":[0.022,5.978],"reverse":true,"nice":false,"zero":false},"axis":null},"text":{"field":"label"}}}
   ]
  },
  {
   "data": {"name": "panels"},
   "spacing": {"row": 5.6, "column": 4},
   "bounds": "flush",
   "facet": {
    "row": {"field":"r","type":"nominal","sort":["2F","2V","2J","4F","4V","4J"],"header":null},
    "column": {"field":"c","type":"nominal","sort":["2F","2V","2J","4F","4V","4J"],"header":null}
   },
   "spec": {
    "width": 165, "height": 122,
    "encoding": {
     "x": {"field":"x","type":"quantitative","scale":{"domain":[-0.04,1.04],"nice":false,"zero":false},"axis":null}
    },
    "layer": [
     {"transform":[{"filter":"datum.s==='e'"}],
      "mark":{"type":"area","color":"#c4c4c4"},
      "encoding":{"y":{"field":"lo","type":"quantitative","scale":{"domain":[-0.035,1.035],"nice":false,"zero":false},"axis":null},"y2":{"field":"hi"}}},
     {"transform":[{"filter":"datum.s==='e'"}],
      "mark":{"type":"line","color":"#111","strokeWidth":1.5,"strokeDash":[1.4,4.2]},
      "encoding":{"y":{"field":"y","type":"quantitative","axis":null}}},
     {"transform":[{"filter":"datum.s==='o'"}],
      "mark":{"type":"line","color":"#000","strokeWidth":2.9,"strokeJoin":"round","strokeCap":"round"},
      "encoding":{"y":{"field":"y","type":"quantitative","axis":null}}}
    ]
   }
  }
 ],
 "spacing": 0,
 "bounds": "flush"
}
]
}
